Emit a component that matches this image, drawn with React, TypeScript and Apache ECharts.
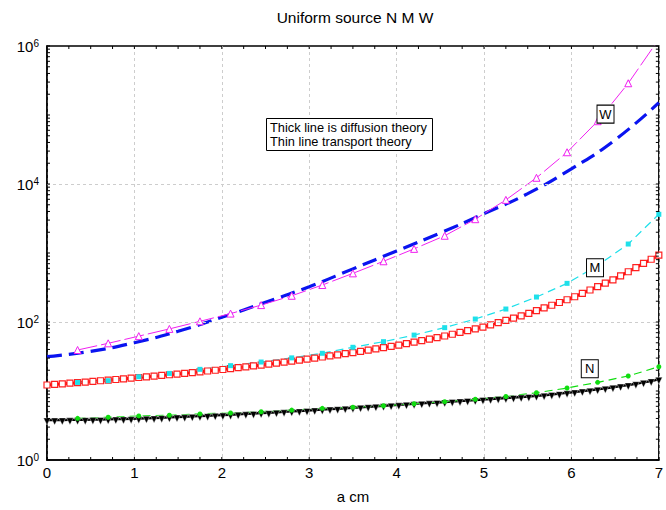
import React, { useEffect, useRef } from "react";
import * as echarts from "echarts";

const FONT = "'Liberation Sans', Arial, Helvetica, sans-serif";

// Sample positions (a, in cm)
const diffX = Array.from({ length: 81 }, (_, i) => (i * 7) / 80);
const transX = Array.from({ length: 20 }, (_, i) => (i + 1) * 0.35);
const wDiffX = Array.from({ length: 15 }, (_, i) => i * 0.5);

// Diffusion theory (thick lines)
const nDiffusion = [
  3.8, 3.8, 3.81, 3.82, 3.83, 3.84, 3.85, 3.87, 3.89, 3.92,
  3.94, 3.97, 4.0, 4.04, 4.07, 4.11, 4.15, 4.19, 4.24, 4.29,
  4.34, 4.39, 4.44, 4.48, 4.54, 4.6, 4.67, 4.73, 4.79, 4.85,
  4.92, 5.0, 5.07, 5.15, 5.22, 5.31, 5.38, 5.47, 5.55, 5.64,
  5.73, 5.82, 5.92, 6.01, 6.11, 6.21, 6.31, 6.41, 6.52, 6.62,
  6.73, 6.84, 6.95, 7.06, 7.18, 7.29, 7.41, 7.53, 7.67, 7.8,
  7.93, 8.05, 8.18, 8.34, 8.51, 8.71, 8.93, 9.16, 9.42, 9.68,
  9.98, 10.28, 10.62, 10.96, 11.35, 11.78, 12.25, 12.76, 13.34, 14.0,
  14.79,
];
const mDiffusion = [
  12.22, 12.46, 12.71, 12.97, 13.22, 13.49, 13.76, 14.07, 14.38, 14.69,
  15.02, 15.35, 15.69, 16.06, 16.43, 16.81, 17.2, 17.6, 18.05, 18.51,
  18.99, 19.48, 19.98, 20.5, 21.11, 21.75, 22.4, 23.07, 23.75, 24.5,
  25.32, 26.17, 27.05, 27.96, 28.9, 29.96, 31.1, 32.27, 33.48, 34.75,
  36.06, 37.58, 39.18, 40.84, 42.57, 44.37, 46.36, 48.7, 51.15, 53.73,
  56.43, 59.28, 62.64, 66.48, 70.56, 74.89, 79.53, 84.4, 90.83, 97.97,
  105.7, 114.0, 123.0, 133.0, 145.7, 159.7, 175.0, 191.7, 210.1, 232.3,
  260.0, 291.1, 325.8, 364.8, 408.3, 465.7, 535.3, 615.1, 707.0, 812.1,
  933.3,
];
const wDiffusion = [
  31.4, 37.6, 50.1, 73.3, 117, 193, 325, 589, 1072, 1950, 3715, 7244, 16600,
  43650, 150700,
];

// Transport theory (thin lines)
const nTransport = [
  4.02, 4.16, 4.35, 4.45, 4.65, 4.8, 5.01, 5.28, 5.61, 5.81, 6.12, 6.53, 7.0,
  7.59, 8.32, 9.44, 11.04, 13.37, 16.48, 22.49,
];
const mTransport = [
  13.3, 14.1, 16.1, 18.0, 20.6, 23.3, 26.3, 30.2, 35.2, 43.0, 51.9, 64.6, 82.8,
  110.4, 154.2, 230.1, 363.1, 660.7, 1349, 3639,
];
const wTransport = [
  39.3, 49.1, 62.4, 79.4, 102.3, 132.4, 175.8, 239.9, 343.6, 507, 758.6, 1148,
  1778, 3090, 5888, 12300, 28840, 81280, 288400, 1258900,
];

// Axis ticks
const xTickValues = Array.from({ length: 29 }, (_, i) => i * 0.25);
const yTickValues: number[] = [];
for (let k = 0; k < 6; k++) {
  for (let m = 1; m <= 9; m++) yTickValues.push(m * Math.pow(10, k));
}
yTickValues.push(1e6);
const yGridValues = [100, 10000];

const curveLabels = [
  { name: "W", coord: [6.39, 1.03e5] },
  { name: "M", coord: [6.27, 612] },
  { name: "N", coord: [6.21, 21] },
];

const pairs = (xs: number[], ys: number[]) => xs.map((x, i) => [x, ys[i]]);

const tickStyle = { stroke: "#000", lineWidth: 1 };
const gridStyle = { color: "#cdcdcd", type: [3, 3], width: 1 };

const boxLabel = (name: string, coord: number[]) => ({
  symbol: "rect",
  symbolSize: [17, 18],
  itemStyle: { color: "#fff", borderColor: "#000", borderWidth: 1 },
  label: {
    show: true,
    position: "inside",
    formatter: name,
    color: "#000",
    fontSize: 13,
    fontFamily: FONT,
  },
  data: [{ coord }],
});

export default function App() {
  const ref = useRef<HTMLDivElement>(null);

  useEffect(() => {
    if (!ref.current) return;
    const chart = echarts.init(ref.current, undefined, { renderer: "svg" });

    const option = {
      animation: false,
      backgroundColor: "#fff",
      grid: {
        left: 47,
        right: 7,
        top: 46,
        bottom: 50,
        show: true,
        borderColor: "#000",
        borderWidth: 1.5,
      },
      xAxis: {
        type: "value",
        min: 0,
        max: 7,
        interval: 1,
        name: "a cm",
        nameLocation: "middle",
        nameGap: 29,
        nameTextStyle: { color: "#000", fontSize: 15, fontFamily: FONT },
        axisLine: { show: true, lineStyle: { color: "#000", width: 1.5 } },
        axisTick: { show: false },
        axisLabel: { color: "#000", fontSize: 15, margin: 5, fontFamily: FONT },
        splitLine: { show: true, lineStyle: gridStyle },
      },
      yAxis: {
        type: "log",
        logBase: 10,
        min: 1,
        max: 1e6,
        axisLine: { show: true, lineStyle: { color: "#000", width: 1.5 } },
        axisTick: { show: false },
        splitLine: { show: false },
        axisLabel: {
          margin: 8,
          formatter: (v: number) => {
            const e = Math.round(Math.log10(v));
            return e % 2 === 0 ? `{b|10}{e|${e}}` : "";
          },
          rich: {
            b: { fontSize: 15, color: "#000", fontFamily: FONT },
            e: {
              fontSize: 10,
              color: "#000",
              fontFamily: FONT,
              verticalAlign: "top",
            },
          },
        },
      },
      graphic: [
        {
          type: "text",
          x: 355,
          y: 17,
          style: {
            text: "Uniform source N M W",
            fontSize: 15.5,
            fontFamily: FONT,
            fill: "#000",
            align: "center",
            textAlign: "center",
            verticalAlign: "middle",
            textVerticalAlign: "middle",
          },
        },
        {
          type: "rect",
          z: 100,
          shape: { x: 266.5, y: 118.5, width: 166, height: 32 },
          style: { fill: "#fff", stroke: "#000", lineWidth: 1 },
        },
        {
          type: "text",
          z: 101,
          x: 270,
          y: 134.5,
          style: {
            text: "Thick line is diffusion theory\nThin line transport theory",
            fontSize: 12.8,
            lineHeight: 13.5,
            fontFamily: FONT,
            fill: "#000",
            verticalAlign: "middle",
            textVerticalAlign: "middle",
          },
        },
      ],
      series: [
        {
          type: "custom",
          silent: true,
          clip: false,
          z: 10,
          data: xTickValues.map((v) => [v, 1]),
          renderItem: (_p: any, api: any) => {
            const v = api.value(0);
            const b = api.coord([v, 1]);
            const t = api.coord([v, 1e6]);
            return {
              type: "group",
              children: [
                { type: "line", shape: { x1: b[0], y1: b[1], x2: b[0], y2: b[1] - 3 }, style: tickStyle },
                { type: "line", shape: { x1: t[0], y1: t[1], x2: t[0], y2: t[1] + 3 }, style: tickStyle },
              ],
            };
          },
        },
        {
          type: "custom",
          silent: true,
          clip: false,
          z: 10,
          data: yTickValues.map((v) => [0, v]),
          renderItem: (_p: any, api: any) => {
            const v = api.value(1);
            const l = api.coord([0, v]);
            const r = api.coord([7, v]);
            return {
              type: "group",
              children: [
                { type: "line", shape: { x1: l[0], y1: l[1], x2: l[0] + 3, y2: l[1] }, style: tickStyle },
                { type: "line", shape: { x1: r[0], y1: r[1], x2: r[0] - 3, y2: r[1] }, style: tickStyle },
              ],
            };
          },
          markLine: {
            silent: true,
            symbol: "none",
            label: { show: false },
            lineStyle: gridStyle,
            data: yGridValues.map((v) => ({ yAxis: v })),
          },
        },
        {
          name: "W diffusion",
          type: "line",
          smooth: true,
          showSymbol: false,
          data: pairs(wDiffX, wDiffusion),
          lineStyle: { color: "#0a14f0", width: 3.2, type: [15, 7] },
          itemStyle: { color: "#0a14f0" },
        },
        {
          name: "M diffusion",
          type: "line",
          symbol: "rect",
          symbolSize: 6,
          data: pairs(diffX, mDiffusion),
          lineStyle: { color: "#ff0000", width: 3 },
          itemStyle: { color: "#fff", borderColor: "#ff2020", borderWidth: 1.2 },
        },
        {
          name: "N diffusion",
          type: "line",
          symbol: "triangle",
          symbolRotate: 180,
          symbolSize: 7,
          symbolOffset: [0, 1.5],
          data: pairs(diffX, nDiffusion),
          lineStyle: { color: "#000", width: 2.5 },
          itemStyle: { color: "#000", borderColor: "#fff", borderWidth: 0.4 },
        },
        {
          name: "W transport",
          type: "line",
          symbol: "triangle",
          symbolSize: 7,
          data: pairs(transX, wTransport),
          lineStyle: { color: "#f020f0", width: 1, type: [20, 4] },
          itemStyle: { color: "#fff", borderColor: "#f020f0", borderWidth: 1 },
          markPoint: boxLabel(curveLabels[0].name, curveLabels[0].coord),
        },
        {
          name: "M transport",
          type: "line",
          symbol: "rect",
          symbolSize: 5,
          data: pairs(transX, mTransport),
          lineStyle: { color: "#1ee0ea", width: 1.2, type: [8, 5] },
          itemStyle: { color: "#1ee0ea" },
          markPoint: boxLabel(curveLabels[1].name, curveLabels[1].coord),
        },
        {
          name: "N transport",
          type: "line",
          symbol: "circle",
          symbolSize: 5,
          data: pairs(transX, nTransport),
          lineStyle: { color: "#10dd10", width: 1.2, type: [8, 5] },
          itemStyle: { color: "#10dd10" },
          markPoint: boxLabel(curveLabels[2].name, curveLabels[2].coord),
        },
      ],
    };

    chart.setOption(option as any);
    return () => chart.dispose();
  }, []);

  return (
    <div
      ref={ref}
      style={{ position: "fixed", left: 0, top: 0, width: 666, height: 510 }}
    />
  );
}
